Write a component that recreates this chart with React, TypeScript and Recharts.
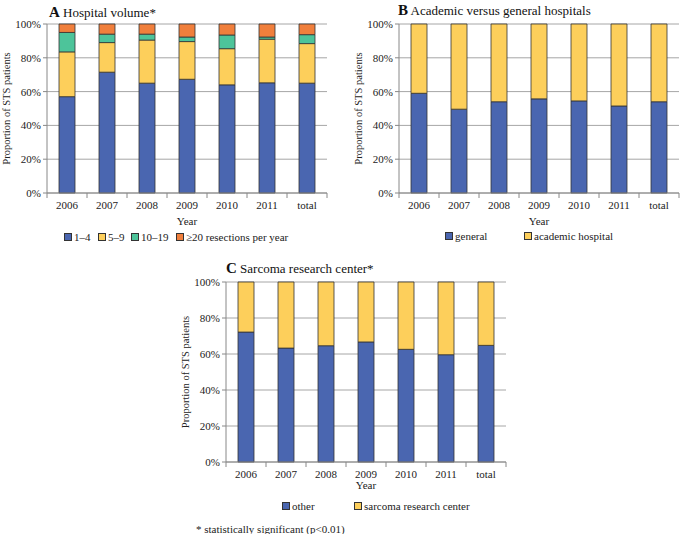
import { BarChart, Bar, XAxis, YAxis, CartesianGrid } from "recharts";

const years = ["2006", "2007", "2008", "2009", "2010", "2011", "total"];

// A: hospital volume (resections per year), percent of patients
const vol1to4 = [57, 71.5, 65, 67.3, 64, 65.2, 65];
const vol5to9 = [26.5, 17.5, 25.5, 22.3, 21.4, 25.8, 23.4];
const vol10to19 = [11.5, 5, 3.5, 2.7, 8.1, 1.3, 5.3];
const vol20plus = [5, 6, 6, 7.7, 6.5, 7.7, 6.3];

// B: academic vs general
const general = [59, 49.6, 54, 55.7, 54.5, 51.5, 54];
const academic = [41, 50.4, 46, 44.3, 45.5, 48.5, 46];

// C: sarcoma research center
const other = [72.2, 63.3, 64.6, 66.7, 62.6, 59.6, 64.8];
const sarcomaCenter = [27.8, 36.7, 35.4, 33.3, 37.4, 40.4, 35.2];

const yTicks = [0, 0.2, 0.4, 0.6, 0.8, 1];

const BLUE = "#4a66b0";
const YELLOW = "#fdcf5b";
const TEAL = "#4dc49a";
const ORANGE = "#f07f3c";
const FONT = "Liberation Serif, Times New Roman, serif";

const dataA = years.map((y, i) => ({
  year: y,
  a: vol1to4[i],
  b: vol5to9[i],
  c: vol10to19[i],
  d: vol20plus[i],
}));
const dataB = years.map((y, i) => ({ year: y, a: general[i], b: academic[i] }));
const dataC = years.map((y, i) => ({ year: y, a: other[i], b: sarcomaCenter[i] }));

function XTick(props: any) {
  const { x, y, payload, index, base, count } = props;
  const half = 20;
  return (
    <g>
      <line x1={x - half} x2={x - half} y1={base} y2={base + 5} stroke="#888" />
      {index === count - 1 && (
        <line x1={x + half} x2={x + half} y1={base} y2={base + 5} stroke="#888" />
      )}
      <text x={x} y={y} dy="0.71em" textAnchor="middle" fontSize={11} fill="#222" fontFamily={FONT}>
        {payload.value}
      </text>
    </g>
  );
}

const pct = (v: number) => `${Math.round(v * 100)}%`;

function Panel(props: {
  data: any[];
  keys: string[];
  colors: string[];
  width: number;
  height: number;
  yWidth: number;
  top: number;
  right: number;
  base: number;
  xHeight: number;
  labelOffset: number;
  yearOffset: number;
}) {
  const p = props;
  return (
    <BarChart
      width={p.width}
      height={p.height}
      data={p.data}
      stackOffset="expand"
      margin={{ top: p.top, right: p.right, left: 0, bottom: 0 }}
      style={{ fontFamily: FONT }}
    >
      <CartesianGrid vertical={false} stroke="#a6a6a6" />
      <XAxis
        dataKey="year"
        height={p.xHeight}
        stroke="#888"
        tickLine={false}
        interval={0}
        tick={(tp: any) => <XTick {...tp} base={p.base} count={p.data.length} />}
        label={{
          value: "Year",
          position: "insideBottom",
          offset: p.yearOffset,
          fontSize: 11,
          fill: "#222",
          fontFamily: FONT,
        }}
      />
      <YAxis
        width={p.yWidth}
        ticks={yTicks}
        domain={[0, 1]}
        tickFormatter={pct}
        stroke="#888"
        tickSize={4}
        tick={{ fontSize: 11, fill: "#222", fontFamily: FONT }}
        label={{
          value: "Proportion of STS patients",
          angle: -90,
          position: "insideLeft",
          offset: p.labelOffset,
          fontSize: 10.5,
          fill: "#222",
          fontFamily: FONT,
          style: { textAnchor: "middle" },
        }}
      />
      {p.keys.map((k, i) => (
        <Bar
          key={k}
          dataKey={k}
          stackId="s"
          fill={p.colors[i]}
          stroke="#333"
          strokeWidth={0.8}
          barSize={16}
          isAnimationActive={false}
        />
      ))}
    </BarChart>
  );
}

function LegendItem(props: { x: number; y: number; color: string; text: string }) {
  return (
    <div
      style={{
        position: "absolute",
        left: props.x,
        top: props.y - 7,
        display: "flex",
        alignItems: "center",
        fontSize: 11,
        color: "#222",
        whiteSpace: "nowrap",
        lineHeight: "14px",
      }}
    >
      <span
        style={{
          display: "inline-block",
          width: 6,
          height: 6,
          background: props.color,
          border: "1px solid #333",
          marginRight: 2,
        }}
      />
      {props.text}
    </div>
  );
}

function Title(props: { x: number; y: number; letter: string; text: string }) {
  return (
    <div
      style={{
        position: "absolute",
        left: props.x,
        top: props.y - 9,
        fontSize: 13,
        color: "#111",
        whiteSpace: "nowrap",
        lineHeight: "18px",
      }}
    >
      <span style={{ fontWeight: "bold", fontSize: 15 }}>{props.letter}</span> {props.text}
    </div>
  );
}

export default function App() {
  return (
    <div
      style={{
        position: "absolute",
        left: 0,
        top: 0,
        width: 685,
        height: 534,
        background: "#fff",
        fontFamily: FONT,
      }}
    >
      <div style={{ position: "absolute", left: 0, top: 0 }}>
        <Panel
          data={dataA}
          keys={["a", "b", "c", "d"]}
          colors={[BLUE, YELLOW, TEAL, ORANGE]}
          width={340}
          height={232}
          yWidth={47}
          top={24}
          right={13}
          base={193}
          xHeight={39}
          labelOffset={6}
          yearOffset={7}
        />
      </div>
      <div style={{ position: "absolute", left: 340, top: 0 }}>
        <Panel
          data={dataB}
          keys={["a", "b"]}
          colors={[BLUE, YELLOW]}
          width={345}
          height={232}
          yWidth={59}
          top={24}
          right={6}
          base={193}
          xHeight={39}
          labelOffset={18}
          yearOffset={7}
        />
      </div>
      <div style={{ position: "absolute", left: 170, top: 265 }}>
        <Panel
          data={dataC}
          keys={["a", "b"]}
          colors={[BLUE, YELLOW]}
          width={345}
          height={232}
          yWidth={56}
          top={17}
          right={9}
          base={197}
          xHeight={35}
          labelOffset={15}
          yearOffset={8}
        />
      </div>

      <Title x={49} y={12} letter="A" text="Hospital volume*" />
      <Title x={398} y={10} letter="B" text="Academic versus general hospitals" />
      <Title x={226} y={268} letter="C" text="Sarcoma research center*" />

      <LegendItem x={64} y={237} color={BLUE} text="1–4" />
      <LegendItem x={98} y={237} color={YELLOW} text="5–9" />
      <LegendItem x={131} y={237} color={TEAL} text="10–19" />
      <LegendItem x={176} y={237} color={ORANGE} text="≥20 resections per year" />

      <LegendItem x={445} y={236} color={BLUE} text="general" />
      <LegendItem x={524} y={236} color={YELLOW} text="academic hospital" />

      <LegendItem x={282} y={506} color={BLUE} text="other" />
      <LegendItem x={354} y={506} color={YELLOW} text="sarcoma research center" />

      <div
        style={{
          position: "absolute",
          left: 196,
          top: 522,
          fontSize: 11,
          color: "#222",
          whiteSpace: "nowrap",
          lineHeight: "14px",
        }}
      >
        * statistically significant (p&lt;0.01)
      </div>
    </div>
  );
}
